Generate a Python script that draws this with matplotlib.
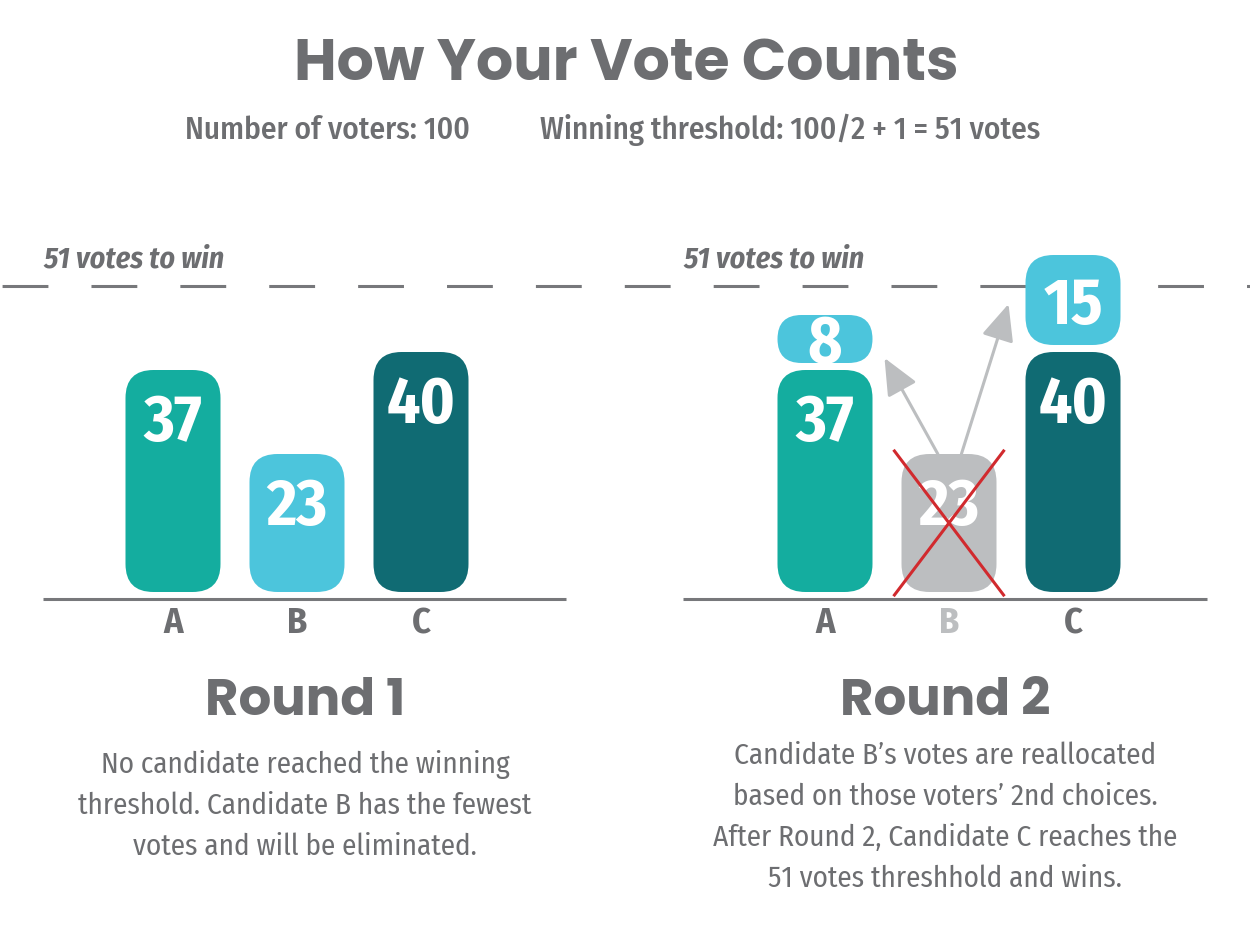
import matplotlib.pyplot as plt
from matplotlib.patches import FancyBboxPatch

# --- dados ---
n_voters = 100
threshold = 51
candidates = ["A", "B", "C"]
round1_votes = [37, 23, 40]
transfers = [8, 0, 15]  # votos de B que vao para A e C
eliminated = "B"

title = "How Your Vote Counts"
sub_left = f"Number of voters: {n_voters}"
sub_right = f"Winning threshold: {n_voters}/2 + 1 = {threshold} votes"
win_label = f"{threshold} votes to win"
round1_text = [
    "No candidate reached the winning",
    "threshold. Candidate B has the fewest",
    "votes and will be eliminated.",
]
round2_text = [
    "Candidate B\u2019s votes are reallocated",
    "based on those voters\u2019 2nd choices.",
    "After Round 2, Candidate C reaches the",
    "51 votes threshhold and wins.",
]

# --- cores ---
TEAL = "#14ad9f"
LIGHT = "#4cc5dc"
DARK = "#106b73"
GRAY = "#6d6e71"
LINE = "#77787b"
OUT = "#bcbec0"
RED = "#d12a2e"
bar_colors = [TEAL, LIGHT, DARK]

NARROW = ["Fira Sans Condensed", "DejaVu Sans"]
HEAD = ["Poppins", "DejaVu Sans"]

plt.rcParams["lines.scale_dashes"] = False

# geometria em pixels
W, H = 1250, 937
S = 6.0      # px por voto
U = 124      # px entre candidatos
BASE = 593   # base das barras (px a partir do topo)
ASP = U / S
BAR_W = 95 / U
R = 28 / U
GAP = 7 / S

fig = plt.figure(figsize=(W / 100, H / 100), dpi=100)

ylim = ((BASE - H) / S, BASE / S)

# eixo de fundo para a linha tracejada
ax0 = fig.add_axes([0, 0, 1, 1])
ax0.set_xlim(0, W)
ax0.set_ylim(*ylim)
ax0.axis("off")
ax0.axhline(threshold, color=LINE, lw=2.2, linestyle=(62.5, (33, 31)))


def ftext(x, y, s, **kw):
    fig.text(x / W, 1 - y / H, s, **kw)


def panel(left_px, a_px):
    ax = fig.add_axes([left_px / W, 0, 625 / W, 1])
    ax.set_xlim(-(a_px - left_px) / U, (left_px + 625 - a_px) / U)
    ax.set_ylim(*ylim)
    ax.axis("off")
    ax.patch.set_alpha(0)
    return ax


def rbox(ax, xc, y0, h, color, label):
    r = min(R, BAR_W / 2, h / ASP / 2)
    ax.add_patch(FancyBboxPatch(
        (xc - BAR_W / 2, y0), BAR_W, h,
        boxstyle=f"round,pad=0,rounding_size={r}",
        mutation_aspect=ASP, fc=color, ec="none", zorder=3,
    ))
    yc = y0 + h - min(h / 2, 47 / S)
    ax.text(xc, yc - 23 / S, str(label), ha="center", va="baseline",
            color="white", fontsize=47, fontweight="bold", family=NARROW, zorder=4)


def base_and_labels(ax, x0, x1, label_colors):
    ax.plot([x0, x1], [-7 / S] * 2, color=LINE, lw=2.2, solid_capstyle="butt")
    for i, c in enumerate(candidates):
        ax.text(i, -40 / S, c, ha="center", va="baseline", fontsize=26,
                fontweight="bold", family=NARROW, color=label_colors[i])
    ax.text(x0, threshold + 20 / S, win_label, ha="left", va="baseline",
            fontsize=21.5, fontweight="bold", style="italic", family=NARROW, color=GRAY)


# --- round 1 ---
ax1 = panel(0, 173)
for i, v in enumerate(round1_votes):
    rbox(ax1, i, 0, v, bar_colors[i], v)
base_and_labels(ax1, -130 / U, 393 / U, [GRAY] * 3)

# --- round 2 ---
ax2 = panel(625, 825)
out = candidates.index(eliminated)
for i, v in enumerate(round1_votes):
    if i == out:
        rbox(ax2, i, 0, v, OUT, v)
        ax2.plot([i - 0.44, i + 0.44], [-0.5, v + 0.5], color=RED, lw=2.2, zorder=5)
        ax2.plot([i - 0.44, i + 0.44], [v + 0.5, -0.5], color=RED, lw=2.2, zorder=5)
    else:
        rbox(ax2, i, 0, v, bar_colors[i], v)
        rbox(ax2, i, v + GAP, transfers[i], LIGHT, transfers[i])

# setas de realocacao
v_out = round1_votes[out]
arrow = dict(arrowstyle="-|>,head_length=0.9,head_width=0.4",
             mutation_scale=25, color=OUT, lw=2.2, shrinkA=0, shrinkB=0)
ax2.annotate("", xy=(0.48, round1_votes[0] + 2), xytext=(out - 0.09, v_out),
             arrowprops=arrow, zorder=2)
ax2.annotate("", xy=(1.48, round1_votes[2] + 8), xytext=(out + 0.1, v_out),
             arrowprops=arrow, zorder=2)
base_and_labels(ax2, -142 / U, 382 / U, [GRAY, OUT, GRAY])

# --- textos ---
ftext(626, 80, title, ha="center", va="baseline", fontsize=42,
      fontweight="bold", family=HEAD, color=GRAY)
ftext(185, 139, sub_left, ha="left", va="baseline", fontsize=22.5,
      fontweight="medium", family=NARROW, color=GRAY)
ftext(540, 139, sub_right, ha="left", va="baseline", fontsize=22.5,
      fontweight="medium", family=NARROW, color=GRAY)

ftext(305, 715, "Round 1", ha="center", va="baseline", fontsize=37,
      fontweight="bold", family=HEAD, color=GRAY)
ftext(945, 715, "Round 2", ha="center", va="baseline", fontsize=37,
      fontweight="bold", family=HEAD, color=GRAY)

for k, line in enumerate(round1_text):
    ftext(305, 773 + k * 41, line, ha="center", va="baseline", fontsize=21,
          family=NARROW, color=GRAY)
for k, line in enumerate(round2_text):
    ftext(945, 764 + k * 41, line, ha="center", va="baseline", fontsize=21,
          family=NARROW, color=GRAY)

fig.savefig("out.png", dpi=100)
